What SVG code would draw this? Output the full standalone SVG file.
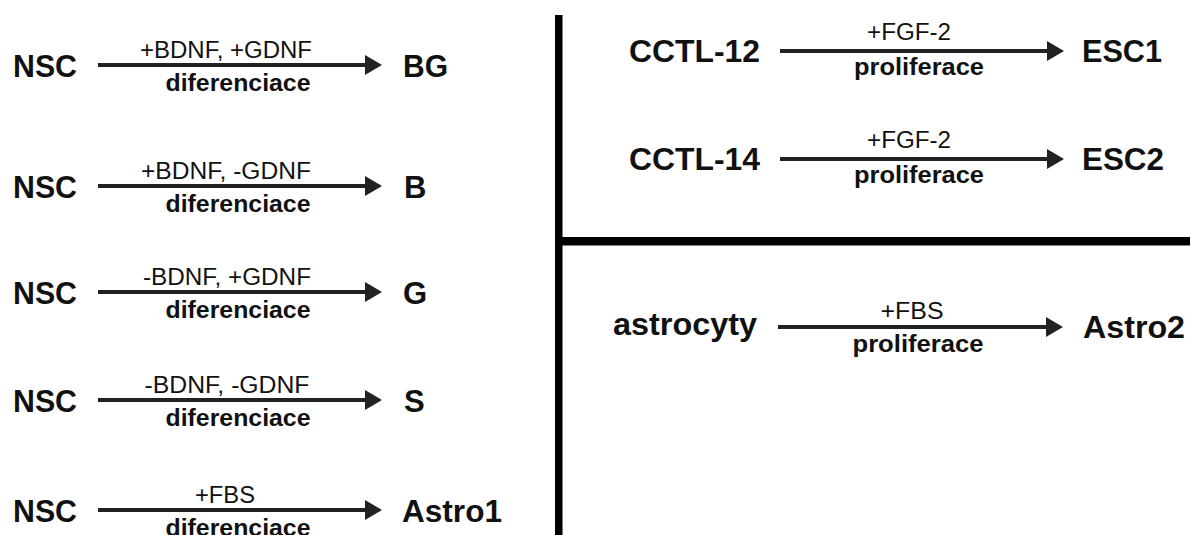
<svg xmlns="http://www.w3.org/2000/svg" width="1190" height="535" viewBox="0 0 1190 535">
<style>
.node{font-family:"Liberation Sans",Arial,sans-serif;font-weight:bold;font-size:31px;fill:#111}
.lab{font-family:"Liberation Sans",Arial,sans-serif;font-size:23px;fill:#111;text-anchor:middle}
.sub{font-family:"Liberation Sans",Arial,sans-serif;font-weight:bold;font-size:23px;fill:#111;text-anchor:middle}
.arr{stroke:#222;stroke-width:4;fill:none;marker-end:url(#ah)}
.div{fill:#000}
</style>
<defs>
<marker id="ah" markerUnits="userSpaceOnUse" markerWidth="17" markerHeight="20" refX="2" refY="10" orient="auto">
<path d="M0,0 L17,10 L0,20 z" fill="#222"/>
</marker>
</defs>
<rect width="1190" height="535" fill="#fff"/>
<g id="dividers">
<rect class="div" x="555" y="15" width="7.5" height="520"/>
<rect class="div" x="555" y="237" width="635" height="8.5"/>
</g>
<g id="connectors">
<line class="arr" x1="98" y1="65" x2="367" y2="65"/>
<line class="arr" x1="98" y1="186" x2="367" y2="186"/>
<line class="arr" x1="98" y1="292" x2="367" y2="292"/>
<line class="arr" x1="98" y1="400" x2="367" y2="400"/>
<line class="arr" x1="98" y1="510" x2="367" y2="510"/>
<line class="arr" x1="780" y1="51" x2="1049" y2="51"/>
<line class="arr" x1="780" y1="159" x2="1049" y2="159"/>
<line class="arr" x1="778" y1="327" x2="1048" y2="327"/>
</g>
<g id="labels">
<text class="lab" x="226" y="58" textLength="172" lengthAdjust="spacingAndGlyphs">+BDNF, +GDNF</text>
<text class="sub" x="238" y="91" textLength="145" lengthAdjust="spacingAndGlyphs">diferenciace</text>
<text class="lab" x="226" y="179" textLength="170" lengthAdjust="spacingAndGlyphs">+BDNF, -GDNF</text>
<text class="sub" x="238" y="212" textLength="145" lengthAdjust="spacingAndGlyphs">diferenciace</text>
<text class="lab" x="227" y="285" textLength="168" lengthAdjust="spacingAndGlyphs">-BDNF, +GDNF</text>
<text class="sub" x="238" y="318" textLength="145" lengthAdjust="spacingAndGlyphs">diferenciace</text>
<text class="lab" x="227" y="393" textLength="165" lengthAdjust="spacingAndGlyphs">-BDNF, -GDNF</text>
<text class="sub" x="238" y="426" textLength="145" lengthAdjust="spacingAndGlyphs">diferenciace</text>
<text class="lab" x="225" y="503" textLength="60" lengthAdjust="spacingAndGlyphs">+FBS</text>
<text class="sub" x="238" y="536" textLength="145" lengthAdjust="spacingAndGlyphs">diferenciace</text>
<text class="lab" x="909" y="40" textLength="84" lengthAdjust="spacingAndGlyphs">+FGF-2</text>
<text class="sub" x="919" y="75" textLength="130" lengthAdjust="spacingAndGlyphs">proliferace</text>
<text class="lab" x="909" y="148" textLength="84" lengthAdjust="spacingAndGlyphs">+FGF-2</text>
<text class="sub" x="919" y="183" textLength="130" lengthAdjust="spacingAndGlyphs">proliferace</text>
<text class="lab" x="912" y="319" textLength="63" lengthAdjust="spacingAndGlyphs">+FBS</text>
<text class="sub" x="918" y="352" textLength="131" lengthAdjust="spacingAndGlyphs">proliferace</text>
</g>
<g id="node-nsc1"><text class="node" x="13" y="77" textLength="64" lengthAdjust="spacingAndGlyphs">NSC</text></g>
<g id="node-bg"><text class="node" x="403" y="77" textLength="45" lengthAdjust="spacingAndGlyphs">BG</text></g>
<g id="node-nsc2"><text class="node" x="13" y="198" textLength="64" lengthAdjust="spacingAndGlyphs">NSC</text></g>
<g id="node-b"><text class="node" x="404" y="198">B</text></g>
<g id="node-nsc3"><text class="node" x="13" y="304" textLength="64" lengthAdjust="spacingAndGlyphs">NSC</text></g>
<g id="node-g"><text class="node" x="403" y="304">G</text></g>
<g id="node-nsc4"><text class="node" x="13" y="412" textLength="64" lengthAdjust="spacingAndGlyphs">NSC</text></g>
<g id="node-s"><text class="node" x="404" y="412">S</text></g>
<g id="node-nsc5"><text class="node" x="13" y="522" textLength="64" lengthAdjust="spacingAndGlyphs">NSC</text></g>
<g id="node-astro1"><text class="node" x="402" y="522" textLength="100" lengthAdjust="spacingAndGlyphs">Astro1</text></g>
<g id="node-cctl12"><text class="node" x="629" y="62" textLength="131" lengthAdjust="spacingAndGlyphs">CCTL-12</text></g>
<g id="node-esc1"><text class="node" x="1082" y="62" textLength="80" lengthAdjust="spacingAndGlyphs">ESC1</text></g>
<g id="node-cctl14"><text class="node" x="629" y="170" textLength="131" lengthAdjust="spacingAndGlyphs">CCTL-14</text></g>
<g id="node-esc2"><text class="node" x="1082" y="170" textLength="82" lengthAdjust="spacingAndGlyphs">ESC2</text></g>
<g id="node-astrocyty"><text class="node" x="613" y="335" textLength="144" lengthAdjust="spacingAndGlyphs">astrocyty</text></g>
<g id="node-astro2"><text class="node" x="1083" y="338" textLength="102" lengthAdjust="spacingAndGlyphs">Astro2</text></g>
</svg>
